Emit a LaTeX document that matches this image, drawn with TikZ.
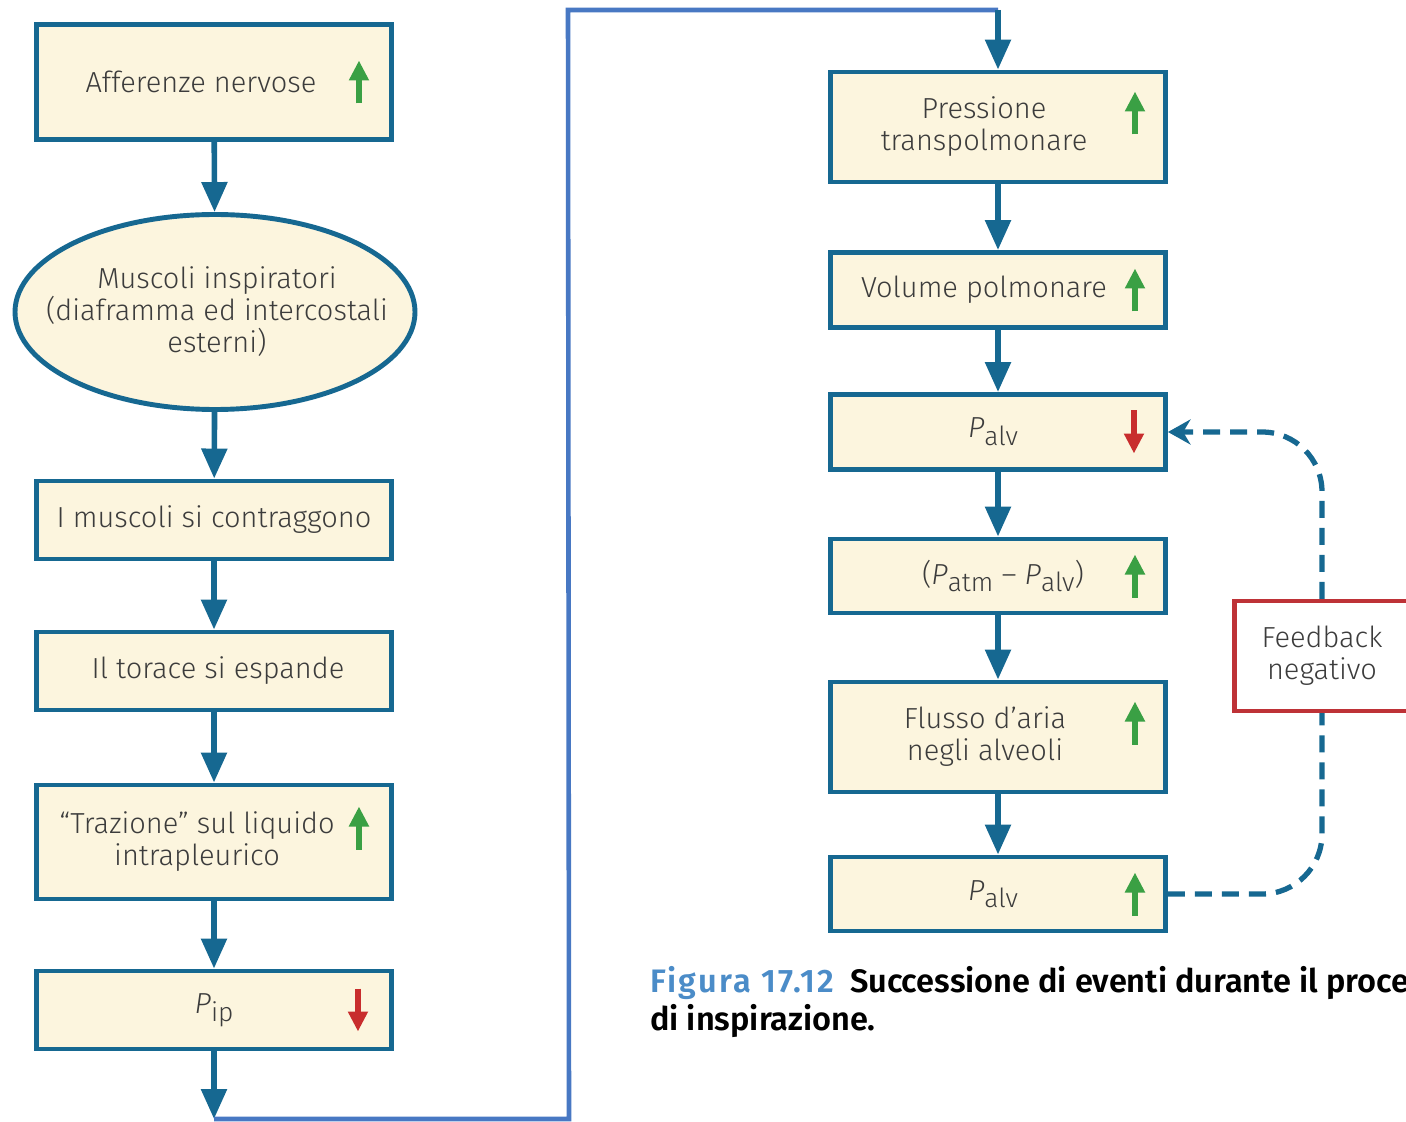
\documentclass[tikz,border=0pt]{standalone}
\usepackage{fontspec}
\setmainfont{Fira Sans}[UprightFont=* Light, ItalicFont=* Light Italic, BoldFont=* SemiBold]
\usepackage{tikz}
\usetikzlibrary{shapes.geometric, arrows.meta, calc}
\definecolor{boxblue}{RGB}{22, 104, 145}
\definecolor{boxfill}{RGB}{252, 245, 222}
\definecolor{upgreen}{RGB}{58, 160, 68}
\definecolor{downred}{RGB}{200, 45, 45}
\definecolor{linkblue}{RGB}{72, 120, 195}
\definecolor{fbred}{RGB}{190, 50, 55}
\definecolor{figblue}{RGB}{75, 140, 200}
\definecolor{textgray}{RGB}{60, 60, 60}

\newcommand{\Pvar}[1]{\textit{P}\raisebox{-0.5ex}{\fontsize{15}{16}\selectfont #1}}

\begin{document}
\begin{tikzpicture}[
    box/.style={draw=boxblue, line width=2.8pt, fill=boxfill, rectangle, inner sep=0pt},
    txt/.style={text=textgray, font=\fontsize{16.5}{18.2}\selectfont, align=center},
    flow/.style={draw=boxblue, line width=3.2pt, -{Triangle[width=0.5cm, length=0.6cm]}},
    uparr/.style={draw=upgreen, line width=0.12cm, -{Triangle[width=0.38cm, length=0.4cm]}},
    downarr/.style={draw=downred, line width=0.12cm, -{Triangle[width=0.38cm, length=0.4cm]}},
    fbline/.style={draw=boxblue, line width=3pt, dash pattern=on 0.34cm off 0.2cm, rounded corners=1.2cm},
    link/.style={draw=linkblue, line width=2.6pt},
    caption/.style={font=\fontsize{18.5}{21.6}\selectfont\bfseries, align=left, inner sep=0pt}
]
    \useasboundingbox (0,0) rectangle (28.12,-22.44);
    \clip (0,0) rectangle (28.12,-22.44);

    % Left column
    \node[box, minimum width=7.1cm, minimum height=2.3cm] (aff) at (4.28,-1.64) {};
    \node[txt] (aff-t) at ([xshift=-0.26cm]aff.center) {Afferenze nervose};

    \node[draw=boxblue, line width=2.8pt, fill=boxfill, ellipse, inner sep=0pt,
          minimum width=8.0cm, minimum height=3.9cm] (musc) at (4.3,-6.24) {};
    \node[txt] (musc-t) at ([xshift=0.04cm]musc.center) {Muscoli inspiratori\\(diaframma ed intercostali\\esterni)};

    \node[box, minimum width=7.1cm, minimum height=1.56cm] (contr) at (4.28,-10.4) {};
    \node[txt] (contr-t) at (contr.center) {I muscoli si contraggono};

    \node[box, minimum width=7.1cm, minimum height=1.56cm] (torace) at (4.28,-13.42) {};
    \node[txt] (torace-t) at ([xshift=0.08cm]torace.center) {Il torace si espande};

    \node[box, minimum width=7.1cm, minimum height=2.28cm] (traz) at (4.28,-16.84) {};
    \node[txt] (traz-t) at ([xshift=-0.34cm]traz.center) {“Trazione” sul liquido\\intrapleurico};

    \node[box, minimum width=7.1cm, minimum height=1.56cm] (pip) at (4.28,-20.2) {};
    \node[txt] (pip-t) at (pip.center) {\Pvar{ip}};

    % Right column
    \node[box, minimum width=6.7cm, minimum height=2.2cm] (press) at (19.96,-2.54) {};
    \node[txt] (press-t) at ([xshift=-0.28cm]press.center) {Pressione\\transpolmonare};

    \node[box, minimum width=6.7cm, minimum height=1.5cm] (vol) at (19.96,-5.8) {};
    \node[txt] (vol-t) at ([xshift=-0.28cm]vol.center) {Volume polmonare};

    \node[box, minimum width=6.7cm, minimum height=1.5cm] (palv1) at (19.96,-8.64) {};
    \node[txt] (palv1-t) at ([xshift=-0.1cm]palv1.center) {\Pvar{alv}};

    \node[box, minimum width=6.7cm, minimum height=1.48cm] (diff) at (19.96,-11.52) {};
    \node[txt] (diff-t) at ([xshift=0.1cm]diff.center) {(\Pvar{atm} – \Pvar{alv})};

    \node[box, minimum width=6.7cm, minimum height=2.2cm] (flusso) at (19.96,-14.74) {};
    \node[txt] (flusso-t) at ([xshift=-0.26cm]flusso.center) {Flusso d’aria\\negli alveoli};

    \node[box, minimum width=6.7cm, minimum height=1.48cm] (palv2) at (19.96,-17.88) {};
    \node[txt] (palv2-t) at ([xshift=-0.1cm]palv2.center) {\Pvar{alv}};

    % Feedback box
    \node[draw=fbred, line width=2.4pt, fill=white, minimum width=3.5cm, minimum height=2.2cm, txt]
        (feedback) at (26.44,-13.12) {Feedback\\negativo};

    % Trend arrows
    \draw[uparr] ([xshift=-0.7cm, yshift=-0.43cm]aff.east) -- ++(0,0.86);
    \draw[uparr] ([xshift=-0.7cm, yshift=-0.15cm]traz.east) -- ++(0,0.86);
    \draw[downarr] ([xshift=-0.72cm, yshift=0.43cm]pip.east) -- ++(0,-0.86);
    \draw[uparr] ([xshift=-0.66cm, yshift=-0.15cm]press.east) -- ++(0,0.86);
    \draw[uparr] ([xshift=-0.66cm, yshift=-0.43cm]vol.east) -- ++(0,0.86);
    \draw[downarr] ([xshift=-0.68cm, yshift=0.43cm]palv1.east) -- ++(0,-0.86);
    \draw[uparr] ([xshift=-0.66cm, yshift=-0.43cm]diff.east) -- ++(0,0.86);
    \draw[uparr] ([xshift=-0.66cm, yshift=-0.15cm]flusso.east) -- ++(0,0.86);
    \draw[uparr] ([xshift=-0.66cm, yshift=-0.43cm]palv2.east) -- ++(0,0.86);

    % Flow connectors
    \draw[flow] (aff) -- (musc);
    \draw[flow] (musc) -- (contr);
    \draw[flow] (contr) -- (torace);
    \draw[flow] (torace) -- (traz);
    \draw[flow] (traz) -- (pip);

    \coordinate (low) at (pip.south |- 0,-22.38);
    \coordinate (cornerA) at (11.38,-22.38);
    \coordinate (cornerB) at (11.36,-0.2);
    \coordinate (top) at (press.north |- cornerB);
    \draw[flow] (pip) -- (low);
    \draw[link] (low) -- (cornerA) -- (cornerB) -- (top);
    \draw[flow] (top) -- (press);

    \draw[flow] (press) -- (vol);
    \draw[flow] (vol) -- (palv1);
    \draw[flow] (palv1) -- (diff);
    \draw[flow] (diff) -- (flusso);
    \draw[flow] (flusso) -- (palv2);

    % Negative feedback loop
    \draw[fbline] (palv2.east) -| (feedback.south);
    \draw[fbline, -{Stealth[width=0.5cm, length=0.45cm]}] (feedback.north) |- (palv1.east);

    % Caption
    \node[caption, anchor=base west] (cap) at (13.0,-20.6)
        {{\addfontfeatures{LetterSpace=7}\textcolor{figblue}{Figura 17.12}}\hspace{0.5em}Successione di eventi durante il processo\\di inspirazione.};
\end{tikzpicture}
\end{document}
